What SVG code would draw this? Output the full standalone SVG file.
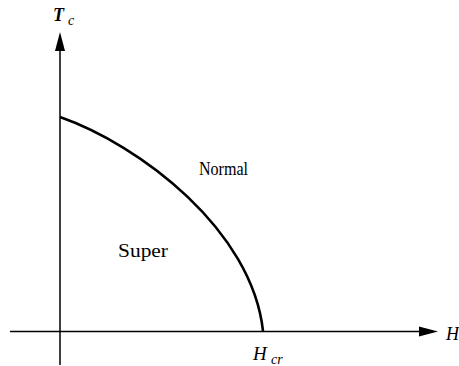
<svg xmlns="http://www.w3.org/2000/svg" width="459" height="366" viewBox="0 0 459 366">
<defs>
<style>
.axis{stroke:#000;stroke-width:1.5;fill:none}
.curve{stroke:#000;stroke-width:2.6;fill:none}
.lbl{font-family:'Liberation Serif','DejaVu Serif',serif;font-size:18px;fill:#000}
.it{font-family:'Liberation Serif','DejaVu Serif',serif;font-style:italic;fill:#000}
</style>
</defs>
<rect width="459" height="366" fill="#fff"/>
<g id="connectors">
<line class="axis" x1="60" y1="365" x2="60" y2="48"/>
<polygon points="60,32 55,51 65,51" fill="#000"/>
<line class="axis" x1="10" y1="331.5" x2="422" y2="331.5"/>
<polygon points="438,331.5 419,326.5 419,336.5" fill="#000"/>
<path class="curve" d="M60,117 C140,145 252,230 263,331"/>
</g>
<g id="axis-Tc">
<text class="it" x="53" y="21" font-size="18" font-weight="bold">T</text>
<text class="it" x="68" y="25" font-size="14">c</text>
</g>
<g id="axis-H">
<text class="it" x="446" y="340" font-size="18">H</text>
</g>
<g id="label-Hcr">
<text class="it" x="253" y="360" font-size="19">H</text>
<text class="it" x="271" y="364" font-size="14">cr</text>
</g>
<g id="region-normal">
<text class="lbl" x="199" y="175" textLength="49" lengthAdjust="spacingAndGlyphs">Normal</text>
</g>
<g id="region-super">
<text class="lbl" x="118" y="257" textLength="50" lengthAdjust="spacingAndGlyphs">Super</text>
</g>
</svg>
